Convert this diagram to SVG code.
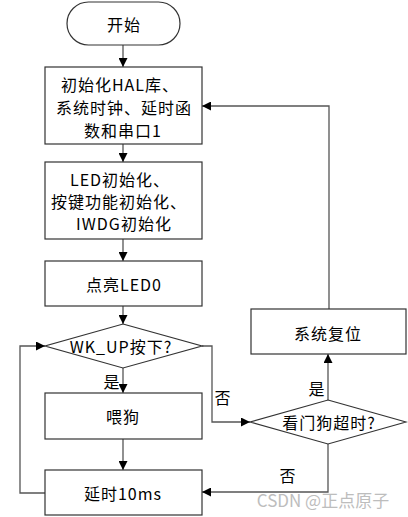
<svg xmlns="http://www.w3.org/2000/svg" width="408" height="517" viewBox="0 0 408 517">
<style>
.box{fill:#fff;stroke:#333;stroke-width:1.2}
.ln{fill:none;stroke:#555;stroke-width:1.3}
text{font-family:"Noto Sans CJK SC","Liberation Sans",sans-serif;font-size:16px;fill:#000;text-anchor:middle;dominant-baseline:central;letter-spacing:1px}
.wm{fill:#bdbdbd;font-size:17px;letter-spacing:0}
</style>
<defs>
<marker id="ah" viewBox="0 0 10 10" refX="10" refY="5" markerWidth="9" markerHeight="9" markerUnits="userSpaceOnUse" orient="auto">
<path d="M0,0 L10,5 L0,10 z" fill="#000"/>
</marker>
</defs>
<g id="connectors">
<path class="ln" d="M123,45 V67" marker-end="url(#ah)"/>
<path class="ln" d="M123,144 V162" marker-end="url(#ah)"/>
<path class="ln" d="M123,239 V261" marker-end="url(#ah)"/>
<path class="ln" d="M123,306 V324" marker-end="url(#ah)"/>
<path class="ln" d="M123,368 V393" marker-end="url(#ah)"/>
<path class="ln" d="M123,439 V470" marker-end="url(#ah)"/>
<path class="ln" d="M45,493 H20 V346 H45" marker-end="url(#ah)"/>
<path class="ln" d="M202,346 H212 V422 H250" marker-end="url(#ah)"/>
<path class="ln" d="M328,400 V354" marker-end="url(#ah)"/>
<path class="ln" d="M328,444 V492 H202" marker-end="url(#ah)"/>
<path class="ln" d="M329,309 V106 H202" marker-end="url(#ah)"/>
<text x="112" y="381">是</text>
<text x="223" y="397">否</text>
<text x="317" y="388">是</text>
<text x="288" y="475">否</text>
</g>
<g id="start">
<rect class="box" x="67" y="2" width="113" height="43" rx="21.5"/>
<text x="124" y="24">开始</text>
</g>
<g id="init1">
<rect class="box" x="45" y="67" width="157" height="77"/>
<text x="120" y="84">初始化HAL库、</text>
<text x="124" y="107">系统时钟、延时函</text>
<text x="123" y="130">数和串口1</text>
</g>
<g id="init2">
<rect class="box" x="45" y="162" width="157" height="77"/>
<text x="120" y="179">LED初始化、</text>
<text x="119" y="201">按键功能初始化、</text>
<text x="124" y="223">IWDG初始化</text>
</g>
<g id="led">
<rect class="box" x="45" y="261" width="157" height="45"/>
<text x="124" y="284">点亮LED0</text>
</g>
<g id="wkup">
<polygon class="box" points="123,324 202,346 123,368 45,346"/>
<text x="121" y="346">WK_UP按下?</text>
</g>
<g id="feed">
<rect class="box" x="45" y="393" width="157" height="46"/>
<text x="123" y="416">喂狗</text>
</g>
<g id="delay">
<rect class="box" x="45" y="470" width="157" height="45"/>
<text x="123" y="493">延时10ms</text>
</g>
<g id="timeout">
<polygon class="box" points="328,400 406,422 328,444 250,422"/>
<text x="329" y="422">看门狗超时?</text>
</g>
<g id="reset">
<rect class="box" x="251" y="309" width="155" height="45"/>
<text x="328" y="333">系统复位</text>
</g>
<text class="wm" x="323" y="499">CSDN @正点原子</text>
</svg>
